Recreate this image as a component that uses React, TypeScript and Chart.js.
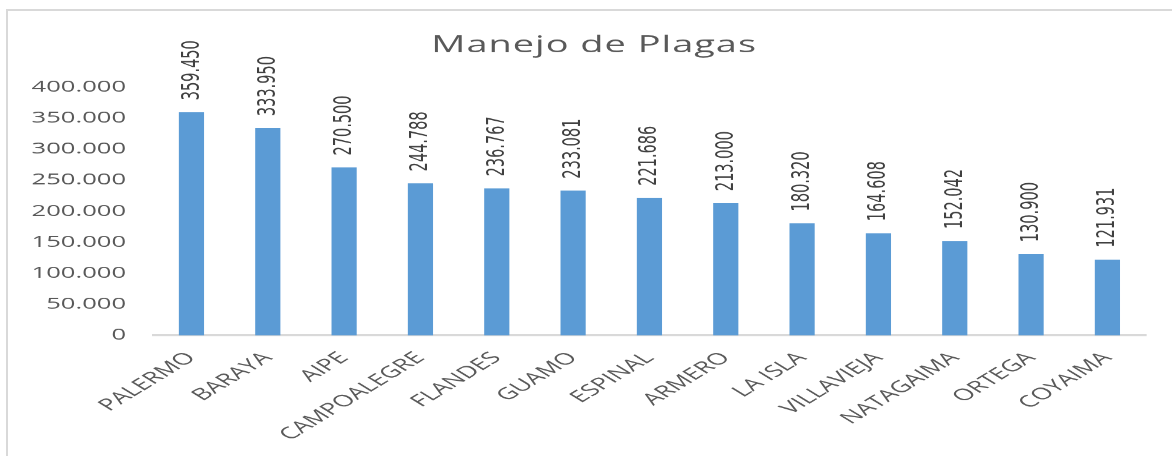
import React, { useEffect, useRef } from "react";
import { Chart, registerables } from "chart.js";

Chart.register(...registerables);

const TITLE = "Manejo de Plagas";
const categories = [
  "PALERMO",
  "BARAYA",
  "AIPE",
  "CAMPOALEGRE",
  "FLANDES",
  "GUAMO",
  "ESPINAL",
  "ARMERO",
  "LA ISLA",
  "VILLAVIEJA",
  "NATAGAIMA",
  "ORTEGA",
  "COYAIMA",
];
const values = [
  359450, 333950, 270500, 244788, 236767, 233081, 221686, 213000, 180320,
  164608, 152042, 130900, 121931,
];
const yMin = 0;
const yMax = 400000;
const yStep = 50000;

const fmt = (v: number) =>
  String(Math.round(v)).replace(/\B(?=(\d{3})+(?!\d))/g, ".");

// The reference is horizontally stretched; draw on a narrower logical canvas and stretch it.
const CSS_W = 1164;
const CSS_H = 445;
const LOG_W = 705;
const DPR = CSS_W / LOG_W;

const overlay = {
  id: "overlay",
  afterDatasetsDraw(chart: any) {
    const ctx = chart.ctx as CanvasRenderingContext2D;
    const meta = chart.getDatasetMeta(0);
    ctx.save();
    ctx.font = '14.5px "DejaVu Sans"';
    ctx.fillStyle = "#404040";
    ctx.textAlign = "left";
    ctx.textBaseline = "middle";
    meta.data.forEach((bar: any, i: number) => {
      ctx.save();
      ctx.translate(bar.x + 0.5, bar.y - 12);
      ctx.rotate(-Math.PI / 2);
      ctx.fillText(fmt(values[i]), 0, 0);
      ctx.restore();
    });
    ctx.restore();

    ctx.save();
    ctx.font = '23px "Open Sans"';
    (ctx as any).letterSpacing = "0.6px";
    ctx.fillStyle = "#595959";
    ctx.textAlign = "center";
    ctx.textBaseline = "alphabetic";
    ctx.fillText(TITLE, 355, 41);
    ctx.restore();
  },
};

export default function App() {
  const ref = useRef<HTMLCanvasElement | null>(null);
  useEffect(() => {
    if (!ref.current) return;
    const chart = new Chart(ref.current, {
      type: "bar",
      data: {
        labels: categories,
        datasets: [
          {
            data: values,
            backgroundColor: "#5B9BD5",
            borderWidth: 0,
            barPercentage: 0.33,
            categoryPercentage: 1,
          },
        ],
      },
      options: {
        responsive: false,
        maintainAspectRatio: false,
        devicePixelRatio: DPR,
        animation: false,
        layout: { padding: { left: 0, right: 16, top: 76, bottom: 0 } },
        plugins: {
          legend: { display: false },
          title: { display: false },
          tooltip: { enabled: false },
        },
        scales: {
          x: {
            grid: { display: false },
            border: { display: true, color: "#d9d9d9", width: 2 },
            ticks: {
              autoSkip: false,
              minRotation: 45,
              maxRotation: 45,
              color: "#595959",
              font: { family: "Open Sans", size: 16.3 },
              padding: 5,
            },
            afterFit(s: any) {
              s.height = 121;
            },
          },
          y: {
            min: yMin,
            max: yMax,
            grid: { display: false, drawTicks: false },
            border: { display: false },
            ticks: {
              stepSize: yStep,
              color: "#595959",
              font: { family: "Open Sans", size: 15.5 },
              padding: 16.5,
              callback: (v: any) => fmt(Number(v)),
            },
            afterFit(s: any) {
              s.width = 88;
            },
          },
        },
      },
      plugins: [overlay],
    });
    return () => chart.destroy();
  }, []);

  return (
    <div
      style={{
        position: "absolute",
        left: 6,
        top: 9,
        width: CSS_W + 2,
        height: CSS_H + 2,
        boxSizing: "border-box",
        borderLeft: "2px solid #d9d9d9",
        borderTop: "2px solid #d9d9d9",
        background: "#fff",
        overflow: "hidden",
      }}
    >
      <canvas
        ref={ref}
        width={LOG_W}
        height={CSS_H}
        style={{ display: "block", width: CSS_W + "px", height: CSS_H + "px" }}
      />
    </div>
  );
}
